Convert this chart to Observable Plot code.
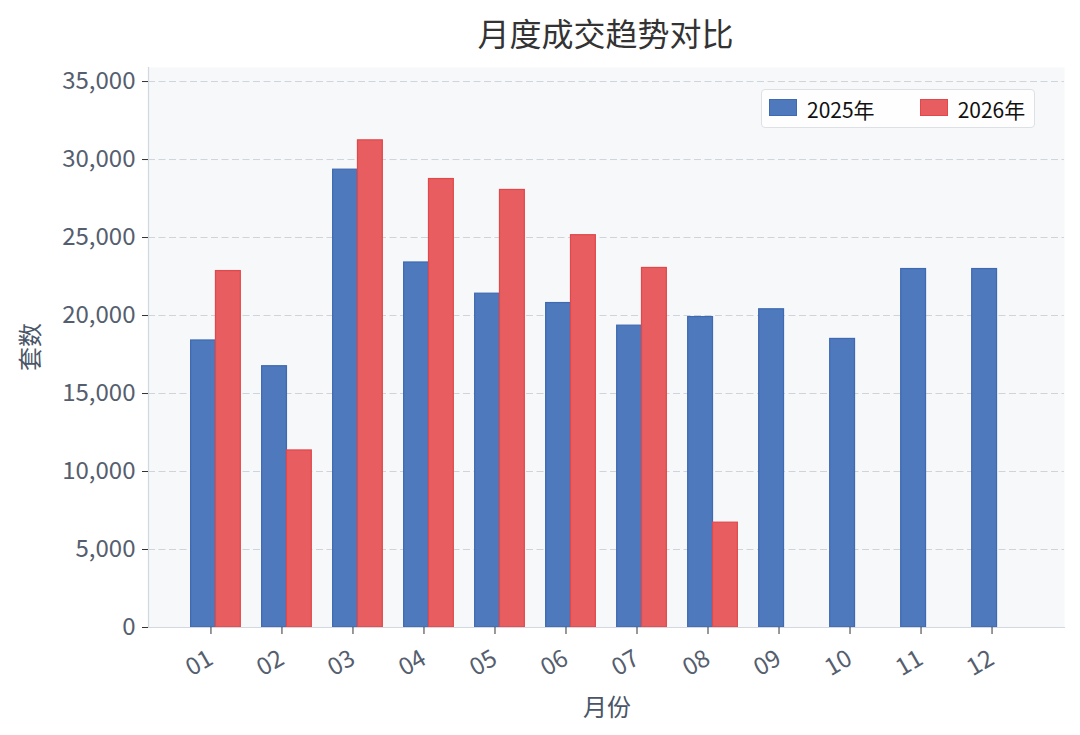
<!DOCTYPE html>
<html>
<head>
<meta charset="utf-8">
<script src="https://cdn.jsdelivr.net/npm/d3@7"></script>
<script src="https://cdn.jsdelivr.net/npm/@observablehq/plot@0.6"></script>
<style>
  body { margin: 0; background: #fff; font-family: 'Noto Sans CJK SC', 'Noto Sans', sans-serif; }
  #wrap { position: relative; width: 1080px; height: 735px; overflow: hidden; }
  #title { position: absolute; top: 12px; left: 148px; width: 915px; text-align: center; font-size: 32px; line-height: 40px; color: #333; }
  #chart { position: absolute; top: 60px; left: 0; }
  #ylab { position: absolute; left: 28px; top: 347px; transform: translate(-50%, -50%) rotate(-90deg); font-size: 24px; color: #4a5568; white-space: nowrap; }
  #xlab { position: absolute; left: 607px; top: 705px; transform: translate(-50%, -50%); font-size: 24px; color: #4a5568; white-space: nowrap; }
  #legend { position: absolute; left: 761px; top: 89px; width: 272px; height: 37px; border: 1px solid #dde1e6; border-radius: 4px; background: rgba(255,255,255,0.85); display: flex; align-items: center; font-size: 21px; color: #111; box-sizing: content-box; }
  .item { display: flex; align-items: center; }
  .sw { width: 26px; height: 15px; border: 1px solid; margin-right: 10px; margin-top: -2px; }
</style>
</head>
<body>
<div id="wrap">
  <div id="title">月度成交趋势对比</div>
  <div id="chart"></div>
  <div id="ylab">套数</div>
  <div id="xlab">月份</div>
  <div id="legend"></div>
</div>
<script>
const months = ["01","02","03","04","05","06","07","08","09","10","11","12"];
const sales2025 = [18400, 16750, 29350, 23400, 21400, 20800, 19350, 19900, 20400, 18500, 22980, 22980];
const sales2026 = [22850, 11350, 31230, 28750, 28050, 25150, 23050, 6720, null, null, null, null];
const seriesNames = ["2025年", "2026年"];
const seriesColors = ["#4e79bd", "#e85d5f"];
const seriesStrokes = ["#3f69b1", "#e0484b"];
const yTicks = [0, 5000, 10000, 15000, 20000, 25000, 30000, 35000];

const rows = months.map((m, i) => ({month: m, a: sales2025[i], b: sales2026[i]}));

const W = 1080, H = 675, ML = 148, MR = 16, MT = 7, MB = 108;
const padIn = 0.3, padOut = 0.6;
const step = (W - ML - MR) / (months.length - padIn + 2 * padOut);
const half = step * (1 - padIn) / 2;

const chart = Plot.plot({
  width: W, height: H,
  marginLeft: ML, marginRight: MR, marginTop: MT, marginBottom: MB,
  style: {fontFamily: "'Noto Sans CJK SC', 'Noto Sans', sans-serif", background: "transparent"},
  x: {type: "band", domain: months, paddingInner: padIn, paddingOuter: padOut, round: false, label: null},
  y: {domain: [0, 35900], label: null},
  marks: [
    Plot.frame({fill: "#f6f8fa", stroke: null}),
    Plot.gridY(yTicks, {stroke: "#cfd4da", strokeOpacity: 1, strokeDasharray: "7,3.5", strokeWidth: 1}),
    Plot.barY(rows.filter(d => d.a != null), {x: "month", y: "a", fill: seriesColors[0], stroke: seriesStrokes[0], strokeWidth: 1.2, insetRight: half, insetLeft: 0}),
    Plot.barY(rows.filter(d => d.b != null), {x: "month", y: "b", fill: seriesColors[1], stroke: seriesStrokes[1], strokeWidth: 1.2, insetLeft: half, insetRight: 0}),
    Plot.frame({anchor: "left", stroke: "#d3d8e0", strokeWidth: 1.2}),
    Plot.frame({anchor: "bottom", stroke: "#d3d8e0", strokeWidth: 1.2}),
    Plot.axisY({ticks: yTicks, tickFormat: d3.format(","), tickSize: 6, tickPadding: 7, fontSize: 24, fill: "#555e6e", stroke: "#333", label: null}),
    Plot.axisX({tickRotate: -30, tickSize: 7, tickPadding: 22, dx: -5, fontSize: 24, fill: "#555e6e", stroke: "#333", label: null})
  ]
});
document.getElementById("chart").appendChild(chart);

const leg = document.getElementById("legend");
seriesNames.forEach((name, i) => {
  const it = document.createElement("div");
  it.className = "item";
  it.style.marginLeft = i === 0 ? "7px" : "45px";
  const sw = document.createElement("div");
  sw.className = "sw";
  sw.style.background = seriesColors[i];
  sw.style.borderColor = seriesStrokes[i];
  const t = document.createElement("span");
  t.textContent = name;
  it.appendChild(sw); it.appendChild(t);
  leg.appendChild(it);
});
</script>
</body>
</html>
